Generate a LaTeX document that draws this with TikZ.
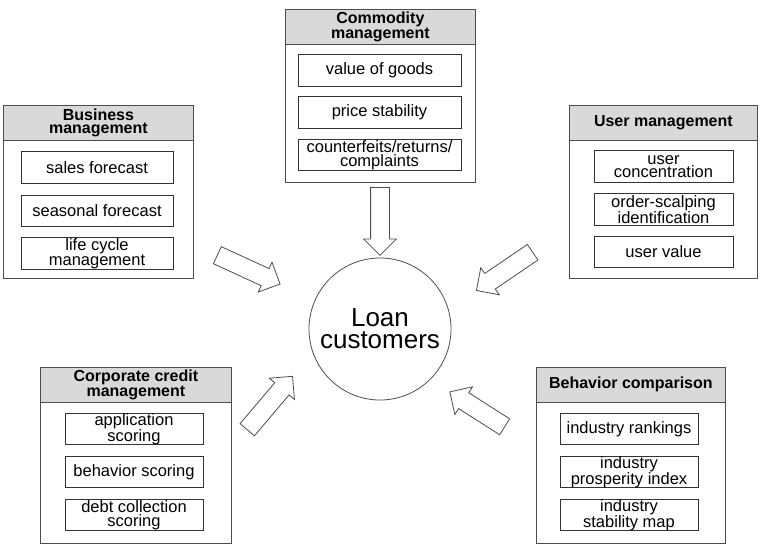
\documentclass[tikz,border=0pt]{standalone}
\usepackage{fontspec}
\setmainfont{Liberation Sans}
\usepackage{tikz}
\usetikzlibrary{shapes.arrows}
\definecolor{cerceveGri}{HTML}{4D4D4D}
\definecolor{baslikGri}{HTML}{D9D9D9}
\definecolor{kutuGri}{HTML}{333333}

\begin{document}
\begin{tikzpicture}[x=1pt,y=-1pt,
  panel/.style={draw=cerceveGri,line width=0.8pt,anchor=north west,inner sep=0pt},
  head/.style={draw=cerceveGri,fill=baslikGri,line width=0.8pt,anchor=north west,inner sep=0pt,
    minimum width=#1,minimum height=34.5pt,align=center,font=\bfseries\fontsize{16}{13}\selectfont},
  item/.style={draw=kutuGri,line width=0.8pt,inner sep=0pt,minimum width=#1,minimum height=31.5pt,
    align=center,font=\fontsize{16.5}{13.5}\selectfont},
  bigarrow/.style={single arrow,draw=cerceveGri,fill=white,line width=0.8pt,anchor=tail,
    inner xsep=0pt,inner ysep=9pt,single arrow head extend=7pt,single arrow head indent=0pt}]
\useasboundingbox (0,0) rectangle (760,544);

\node[draw=cerceveGri,circle,line width=0.8pt,minimum size=142pt,align=center,
  font=\fontsize{26}{22}\selectfont] (loan) at (380,329) {Loan\\customers};

\node[panel,minimum width=190pt,minimum height=173pt] (comm) at (285,9) {};
\node[head=190pt] (commHead) at (comm.north west) {Commodity\\management};
\node[item=163pt] (comm1) at (379.5,70.5) {value of goods};
\node[item=163pt] (comm2) at (379.5,112.5) {price stability};
\node[item=163pt] (comm3) at (379.5,155) {counterfeits/returns/\\complaints};

\node[panel,minimum width=190pt,minimum height=173pt] (bus) at (3,105) {};
\node[head=190pt] (busHead) at (bus.north west) {Business\\management};
\node[item=152pt] (bus1) at (97,167.5) {sales forecast};
\node[item=152pt] (bus2) at (97,211) {seasonal forecast};
\node[item=152pt] (bus3) at (97,253.5) {life cycle\\management};

\node[panel,minimum width=188pt,minimum height=173pt] (user) at (569,105) {};
\node[head=188pt] (userHead) at (user.north west) {User management};
\node[item=139pt] (user1) at (663.5,166.5) {user\\concentration};
\node[item=139pt] (user2) at (663.5,209.5) {order-scalping\\identification};
\node[item=139pt] (user3) at (663.5,252) {user value};

\node[panel,minimum width=191pt,minimum height=176pt] (corp) at (40,367) {};
\node[head=191pt] (corpHead) at (corp.north west) {Corporate credit\\management};
\node[item=138pt] (corp1) at (134,429) {application\\scoring};
\node[item=138pt] (corp2) at (134,472) {behavior scoring};
\node[item=138pt] (corp3) at (134,515) {debt collection\\scoring};

\node[panel,minimum width=189pt,minimum height=176pt] (beh) at (536,367) {};
\node[head=189pt] (behHead) at (beh.north west) {Behavior comparison};
\node[item=138pt] (beh1) at (629,429) {industry rankings};
\node[item=138pt] (beh2) at (629,472) {industry\\prosperity index};
\node[item=138pt] (beh3) at (629,515) {industry\\stability map};

% kalin oklar: kuyruk x/y, aci, boy
\foreach \tx/\ty/\ang/\len/\nm in {380/187/-90/68/okUst, 217/255/-24.7/69/okSolUst,
  533/252/-145.8/68/okSagUst, 247/430/49.7/70/okSolAlt, 505/427/147.5/65/okSagAlt}
  \node[bigarrow,rotate=\ang,minimum height=\len pt] (\nm) at (\tx,\ty) {};
\end{tikzpicture}
\end{document}
